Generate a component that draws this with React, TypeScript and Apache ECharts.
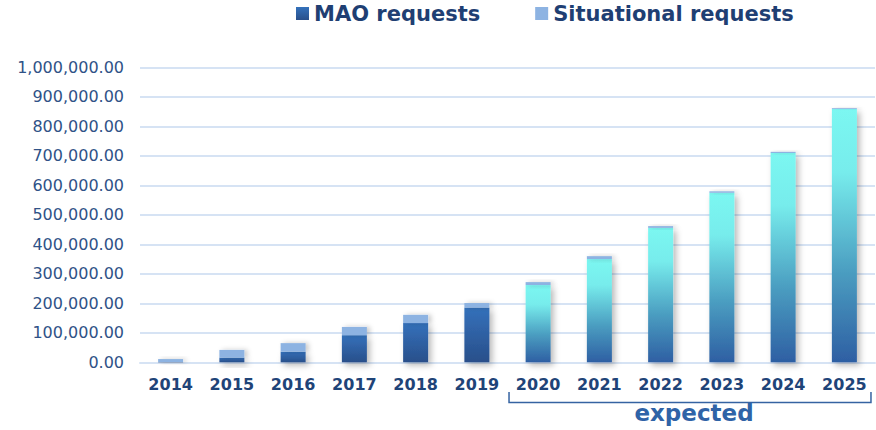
import React, { useEffect, useRef } from "react";
import * as echarts from "echarts";

const years = ["2014", "2015", "2016", "2017", "2018", "2019", "2020", "2021", "2022", "2023", "2024", "2025"];
const maoRequests = [1000, 16000, 36000, 92000, 133000, 186000, 262000, 350000, 456000, 575000, 710000, 859000];
const situationalRequests = [10000, 26000, 29000, 28000, 28000, 15000, 10000, 10000, 6000, 5000, 4000, 3000];
const expectedFrom = 6; // index of first forecast year
const yTicks = { min: 0, max: 1000000, interval: 100000 };

const histGradient = () =>
  new echarts.graphic.LinearGradient(0, 0, 0, 1, [
    { offset: 0, color: "#3471bb" },
    { offset: 1, color: "#294f8a" },
  ]);
const forecastGradient = () =>
  new echarts.graphic.LinearGradient(0, 0, 0, 1, [
    { offset: 0, color: "#7bf7f1" },
    { offset: 0.25, color: "#77ecec" },
    { offset: 0.65, color: "#4a9cc0" },
    { offset: 1, color: "#2e5fa3" },
  ]);

export default function App() {
  const ref = useRef<HTMLDivElement>(null);
  useEffect(() => {
    document.body.style.margin = "0";
    const chart = echarts.init(ref.current!, null, { renderer: "svg" });
    const fmt = (v: number) =>
      v.toLocaleString("en-US", { minimumFractionDigits: 2, maximumFractionDigits: 2 });
    chart.setOption({
      animation: false,
      legend: {
        left: 291,
        top: -2,
        itemWidth: 13,
        itemHeight: 13,
        itemGap: 55,
        icon: "rect",
        textStyle: { fontFamily: "DejaVu Sans", fontWeight: "bold", fontSize: 21, color: "#1f3f73" },
        data: [
          { name: "MAO requests", itemStyle: { color: histGradient() } },
          { name: "Situational requests", itemStyle: { color: "#8db3e2" } },
        ],
      },
      grid: { left: 140, right: 1, top: 67.5, bottom: 67.7, containLabel: false },
      xAxis: {
        type: "category",
        data: years,
        axisLine: { show: true, lineStyle: { color: "#d6e3f4", width: 2 } },
        axisTick: { show: false },
        axisLabel: {
          margin: 14,
          fontFamily: "DejaVu Sans",
          fontWeight: "bold",
          fontSize: 16,
          color: "#1f4478",
        },
      },
      yAxis: {
        type: "value",
        min: yTicks.min,
        max: yTicks.max,
        interval: yTicks.interval,
        axisLine: { show: false },
        axisTick: { show: false },
        splitLine: { lineStyle: { color: "#d6e3f4", width: 2 } },
        axisLabel: {
          margin: 16,
          fontFamily: "DejaVu Sans",
          fontSize: 16,
          color: "#2f5287",
          formatter: (v: number) => fmt(v),
        },
      },
      series: [
        {
          name: "MAO requests",
          type: "bar",
          stack: "total",
          barWidth: 25,
          data: maoRequests.map((v, i) => ({
            value: v,
            itemStyle: { color: i >= expectedFrom ? forecastGradient() : histGradient() },
          })),
          itemStyle: {
            shadowColor: "rgba(0,0,0,0.28)",
            shadowBlur: 6,
            shadowOffsetX: 3,
            shadowOffsetY: 3,
          },
        },
        {
          name: "Situational requests",
          type: "bar",
          stack: "total",
          barWidth: 25,
          data: situationalRequests,
          itemStyle: {
            color: "#8db3e2",
            shadowColor: "rgba(0,0,0,0.22)",
            shadowBlur: 5,
            shadowOffsetX: 3,
            shadowOffsetY: 0,
          },
        },
      ],
    });
    const x0 = chart.convertToPixel({ xAxisIndex: 0 }, years[expectedFrom]) as number;
    const x1 = chart.convertToPixel({ xAxisIndex: 0 }, years[years.length - 1]) as number;
    const half = 30.6;
    const left = x0 - half + 1.5;
    const right = x1 + half - 4;
    chart.setOption({
      graphic: [
        {
          type: "polyline",
          shape: {
            points: [
              [left, 392],
              [left, 402.5],
              [right, 402.5],
              [right, 392],
            ],
          },
          style: { stroke: "#3563a2", lineWidth: 1.5, fill: null },
        },
        {
          type: "text",
          x: (left + right) / 2 + 4,
          y: 413,
          style: {
            text: "expected",
            fontFamily: "DejaVu Sans",
            fontWeight: "bold",
            fontSize: 23,
            fill: "#2f63a7",
            align: "center",
            verticalAlign: "middle",
          },
        },
      ],
    });
    return () => chart.dispose();
  }, []);
  return <div ref={ref} style={{ width: 876, height: 430 }} />;
}
